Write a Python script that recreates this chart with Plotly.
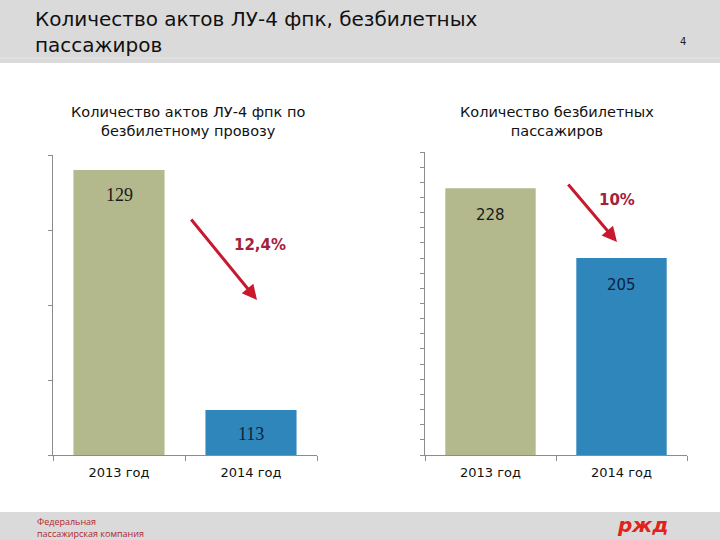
import plotly.graph_objects as go

categories = ["2013 год", "2014 год"]
acts = [129, 113]
passengers = [228, 205]
bar_colors = ["#B3B88D", "#2F86BB"]
value_colors = ["#1A1A1A", "#0E2240"]
change_labels = ["12,4%", "10%"]

W, H = 720, 540
def px(x): return x / W
def py(y): return (H - y) / H

fig = go.Figure()
fig.add_trace(go.Bar(x=categories, y=acts, marker=dict(color=bar_colors, line=dict(width=0)),
                     xaxis="x", yaxis="y", showlegend=False, hoverinfo="skip"))
fig.add_trace(go.Bar(x=categories, y=passengers, marker=dict(color=bar_colors, line=dict(width=0)),
                     xaxis="x2", yaxis="y2", showlegend=False, hoverinfo="skip"))

axis_col = "#8C8C8C"
xa = dict(showline=True, linecolor=axis_col, linewidth=1, ticks="outside", tickson="boundaries",
          ticklen=5, tickcolor=axis_col, showgrid=False, zeroline=False, ticklabelstandoff=5,
          tickfont=dict(family="DejaVu Sans", size=13, color="#111"))
ya = dict(showline=True, linecolor=axis_col, linewidth=1, ticks="outside", ticklen=4,
          tickcolor=axis_col, showgrid=False, zeroline=False, showticklabels=False, dtick=5)

fig.update_layout(
    width=W, height=H, margin=dict(l=0, r=0, t=0, b=0),
    paper_bgcolor="white", plot_bgcolor="white", bargap=0.31,
    xaxis=dict(domain=[px(53), px(317)], anchor="y", **xa),
    yaxis=dict(domain=[py(455), py(155)], anchor="x", range=[110, 130], **ya),
    xaxis2=dict(domain=[px(425), px(687)], anchor="y2", **xa),
    yaxis2=dict(domain=[py(455), py(152)], anchor="x2", range=[140, 240], **ya),
)

# header and footer bands
fig.add_shape(type="rect", xref="paper", yref="paper", x0=0, x1=1, y0=py(63), y1=1,
              fillcolor="#DADADA", line=dict(width=0), layer="below")
fig.add_shape(type="line", xref="paper", yref="paper", x0=0, x1=1, y0=py(58), y1=py(58),
              line=dict(color="#E6E6E6", width=1))
fig.add_shape(type="rect", xref="paper", yref="paper", x0=0, x1=1, y0=0, y1=py(512),
              fillcolor="#DADADA", line=dict(width=0), layer="below")

def A(**kw):
    kw.setdefault("xanchor", "center")
    kw.setdefault("yanchor", "middle")
    return kw

ann = []
ann.append(A(xref="paper", yref="paper", x=px(33), y=py(5), xanchor="left", yanchor="top",
             text="Количество актов ЛУ-4 фпк, безбилетных<br>пассажиров", showarrow=False, align="left",
             font=dict(family="DejaVu Sans", size=20, color="#111")))
ann.append(A(xref="paper", yref="paper", x=px(683), y=py(41), text="4", showarrow=False,
             font=dict(family="DejaVu Sans", size=10, color="#222")))
ann.append(A(xref="paper", yref="paper", x=px(188), y=py(121),
             text="Количество актов ЛУ-4 фпк по<br>безбилетному провозу", showarrow=False,
             font=dict(family="DejaVu Sans", size=14.5, color="#111")))
ann.append(A(xref="paper", yref="paper", x=px(557), y=py(121),
             text="Количество безбилетных<br>пассажиров", showarrow=False,
             font=dict(family="DejaVu Sans", size=14.5, color="#111")))

# value labels
for i, c in enumerate(categories):
    ann.append(A(xref="x", yref="y", x=c, y=acts[i], yshift=-25 if i == 0 else -24, text=str(acts[i]),
                 showarrow=False, font=dict(family="Liberation Serif", size=18, color=value_colors[i])))
    ann.append(A(xref="x2", yref="y2", x=c, y=passengers[i], yshift=-27, text=str(passengers[i]),
                 showarrow=False, font=dict(family="DejaVu Sans", size=15, color=value_colors[i])))

# arrows
arrow_col = "#C8192E"
ann.append(dict(xref="paper", yref="paper", x=px(257), y=py(300), ax=-67, ay=-82, text="",
                showarrow=True, arrowhead=2, arrowsize=1, arrowwidth=3, arrowcolor=arrow_col))
ann.append(dict(xref="paper", yref="paper", x=px(617), y=py(242), ax=-50, ay=-59, text="",
                showarrow=True, arrowhead=2, arrowsize=1, arrowwidth=3, arrowcolor=arrow_col))
ann.append(A(xref="paper", yref="paper", x=px(260), y=py(245), text="<b>%s</b>" % change_labels[0],
             showarrow=False, font=dict(family="DejaVu Sans", size=15, color="#A3223A")))
ann.append(A(xref="paper", yref="paper", x=px(617), y=py(200), text="<b>%s</b>" % change_labels[1],
             showarrow=False, font=dict(family="DejaVu Sans", size=15, color="#A3223A")))

# footer
ann.append(A(xref="paper", yref="paper", x=px(35), y=py(527), xanchor="left",
             text="Федеральная<br>пассажирская компания", showarrow=False, align="left",
             font=dict(family="Open Sans", size=9, color="#B0282E")))
ann.append(A(xref="paper", yref="paper", x=px(642), y=py(525),
             text="<b><i>ржд</i></b>", showarrow=False,
             font=dict(family="DejaVu Sans", size=20, color="#E2231A")))

fig.update_layout(annotations=ann)
fig.write_html("out.html", config={"displayModeBar": False},
               post_script="document.body.style.margin='0px';document.body.style.overflow='hidden';")
